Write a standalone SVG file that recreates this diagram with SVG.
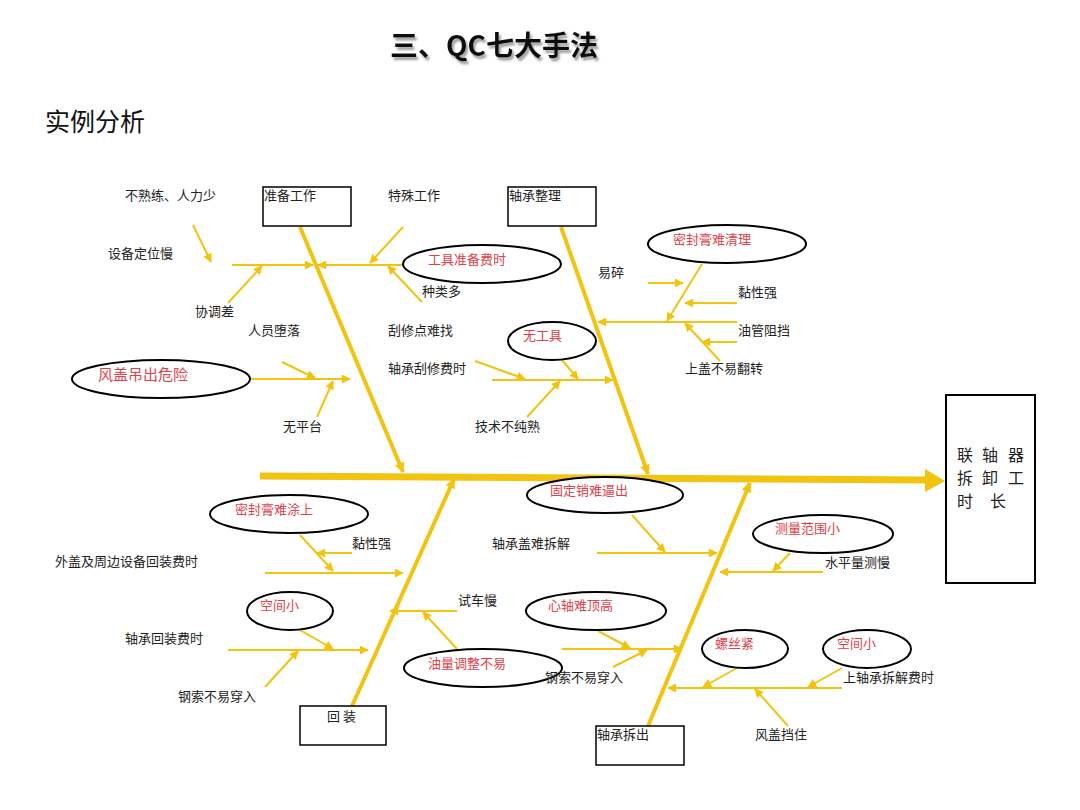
<svg xmlns="http://www.w3.org/2000/svg" width="1080" height="810" viewBox="0 0 1080 810">
<style>
.t{font-family:"Noto Sans CJK SC","Liberation Serif",serif;font-size:13px;fill:#222}
.h{font-family:"Noto Sans CJK SC","Liberation Serif",serif;font-size:16px;fill:#222}
.r{font-family:"Noto Sans CJK SC","Liberation Serif",serif;font-size:13px;fill:#E0404A}
.box{fill:#fff;stroke:#000;stroke-width:1.5}
.el{fill:#fff;stroke:#000;stroke-width:2}
.s{stroke:#F2C30F;stroke-width:2;fill:none}
.b{stroke:#F2C30F;stroke-width:4;fill:none}
</style>
<defs>
<marker id="a" viewBox="0 0 10 10" refX="9" refY="5" markerWidth="11" markerHeight="9" markerUnits="userSpaceOnUse" orient="auto"><path d="M0,0 L10,5 L0,10 z" fill="#F2C30F"/></marker>
<marker id="ab" viewBox="0 0 10 10" refX="9" refY="5" markerWidth="12" markerHeight="10" markerUnits="userSpaceOnUse" orient="auto"><path d="M0,0 L10,5 L0,10 z" fill="#F2C30F"/></marker>
<filter id="sh" x="-10%" y="-30%" width="120%" height="160%"><feDropShadow dx="2" dy="3" stdDeviation="1.2" flood-color="#888" flood-opacity="0.8"/></filter>
</defs>
<rect width="1080" height="810" fill="#fff"/>
<text x="390" y="56" filter="url(#sh)" style="font-family:'Noto Sans CJK SC','Liberation Sans',sans-serif;font-size:28px;font-weight:bold;fill:#111">三、QC七大手法</text>
<text x="45" y="131" style="font-family:'Noto Sans CJK SC','Liberation Sans',sans-serif;font-size:25px;fill:#111">实例分析</text>

<g id="connectors">
<line x1="260" y1="476" x2="928" y2="480" stroke="#F2C30F" stroke-width="7"/>
<polygon points="925,469 945,481 925,492" fill="#F2C30F"/>
<line class="b" x1="300" y1="227" x2="403" y2="472" marker-end="url(#ab)"/>
<line class="b" x1="561" y1="227" x2="648" y2="474" marker-end="url(#ab)"/>
<line class="b" x1="352" y1="706" x2="454" y2="479" marker-end="url(#ab)"/>
<line class="b" x1="648" y1="726" x2="750" y2="483" marker-end="url(#ab)"/>
<line class="s" x1="193" y1="225" x2="211" y2="262" marker-end="url(#a)"/>
<line class="s" x1="232" y1="265" x2="313" y2="265" marker-end="url(#a)"/>
<line class="s" x1="403" y1="265" x2="318" y2="265" marker-end="url(#a)"/>
<line class="s" x1="228" y1="303" x2="262" y2="266" marker-end="url(#a)"/>
<line class="s" x1="403" y1="227" x2="370" y2="263" marker-end="url(#a)"/>
<line class="s" x1="422" y1="302" x2="388" y2="266" marker-end="url(#a)"/>
<line class="s" x1="250" y1="379" x2="350" y2="379" marker-end="url(#a)"/>
<line class="s" x1="282" y1="362" x2="315" y2="378" marker-end="url(#a)"/>
<line class="s" x1="317" y1="417" x2="333" y2="381" marker-end="url(#a)"/>
<line class="s" x1="492" y1="380" x2="613" y2="380" marker-end="url(#a)"/>
<line class="s" x1="475" y1="361" x2="525" y2="379" marker-end="url(#a)"/>
<line class="s" x1="562" y1="360" x2="578" y2="379" marker-end="url(#a)"/>
<line class="s" x1="527" y1="417" x2="560" y2="381" marker-end="url(#a)"/>
<line class="s" x1="737" y1="322" x2="598" y2="322" marker-end="url(#a)"/>
<line class="s" x1="702" y1="264" x2="667" y2="321" marker-end="url(#a)"/>
<line class="s" x1="648" y1="283" x2="683" y2="283" marker-end="url(#a)"/>
<line class="s" x1="737" y1="303" x2="685" y2="303" marker-end="url(#a)"/>
<line class="s" x1="737" y1="342" x2="702" y2="342" marker-end="url(#a)"/>
<line class="s" x1="720" y1="361" x2="685" y2="323" marker-end="url(#a)"/>
<line class="s" x1="352" y1="553" x2="317" y2="553" marker-end="url(#a)"/>
<line class="s" x1="300" y1="535" x2="333" y2="571" marker-end="url(#a)"/>
<line class="s" x1="265" y1="573" x2="403" y2="573" marker-end="url(#a)"/>
<line class="s" x1="228" y1="650" x2="368" y2="650" marker-end="url(#a)"/>
<line class="s" x1="300" y1="630" x2="333" y2="649" marker-end="url(#a)"/>
<line class="s" x1="265" y1="687" x2="298" y2="651" marker-end="url(#a)"/>
<line class="s" x1="457" y1="611" x2="390" y2="611" marker-end="url(#a)"/>
<line class="s" x1="457" y1="649" x2="423" y2="612" marker-end="url(#a)"/>
<line class="s" x1="597" y1="553" x2="717" y2="553" marker-end="url(#a)"/>
<line class="s" x1="632" y1="515" x2="665" y2="552" marker-end="url(#a)"/>
<line class="s" x1="823" y1="572" x2="720" y2="572" marker-end="url(#a)"/>
<line class="s" x1="790" y1="553" x2="773" y2="571" marker-end="url(#a)"/>
<line class="s" x1="562" y1="649" x2="682" y2="649" marker-end="url(#a)"/>
<line class="s" x1="598" y1="631" x2="630" y2="648" marker-end="url(#a)"/>
<line class="s" x1="613" y1="667" x2="647" y2="650" marker-end="url(#a)"/>
<line class="s" x1="842" y1="688" x2="668" y2="688" marker-end="url(#a)"/>
<line class="s" x1="737" y1="668" x2="703" y2="687" marker-end="url(#a)"/>
<line class="s" x1="842" y1="668" x2="808" y2="687" marker-end="url(#a)"/>
<line class="s" x1="788" y1="726" x2="755" y2="689" marker-end="url(#a)"/>
</g>

<g id="head"><rect x="946" y="395" width="89" height="188" fill="#fff" stroke="#000" stroke-width="2"/>
<text class="h" x="957" y="461">联</text><text class="h" x="982" y="461">轴</text><text class="h" x="1008" y="461">器</text>
<text class="h" x="957" y="484">拆</text><text class="h" x="982" y="484">卸</text><text class="h" x="1008" y="484">工</text>
<text class="h" x="957" y="507">时</text><text class="h" x="990" y="507">长</text></g>

<g id="cat-prep"><rect class="box" x="263" y="187" width="88" height="39"/><text class="t" x="264" y="200">准备工作</text></g>
<g id="cat-bearing"><rect class="box" x="508" y="187" width="88" height="39"/><text class="t" x="509" y="200">轴承整理</text></g>
<g id="cat-reinstall"><rect class="box" x="300" y="706" width="86" height="39"/><text class="t" x="327" y="721">回 装</text></g>
<g id="cat-remove"><rect class="box" x="596" y="726" width="88" height="39"/><text class="t" x="597" y="739">轴承拆出</text></g>

<g id="e1"><ellipse class="el" cx="482" cy="264" rx="79" ry="19"/><text class="r" x="428" y="264">工具准备费时</text></g>
<g id="e2"><ellipse class="el" cx="727" cy="244" rx="79" ry="19"/><text class="r" x="673" y="244">密封膏难清理</text></g>
<g id="e3"><ellipse class="el" cx="161" cy="379" rx="89" ry="19"/><text class="r" x="98" y="380" style="font-size:15px">风盖吊出危险</text></g>
<g id="e4"><ellipse class="el" cx="552" cy="341" rx="44" ry="19"/><text class="r" x="523" y="340">无工具</text></g>
<g id="e5"><ellipse class="el" cx="289" cy="514" rx="79" ry="19"/><text class="r" x="235" y="514">密封膏难涂上</text></g>
<g id="e6"><ellipse class="el" cx="605" cy="495" rx="78" ry="18"/><text class="r" x="550" y="495">固定销难逼出</text></g>
<g id="e7"><ellipse class="el" cx="823" cy="534" rx="70" ry="19"/><text class="r" x="775" y="533">测量范围小</text></g>
<g id="e8"><ellipse class="el" cx="290" cy="611" rx="43" ry="19"/><text class="r" x="260" y="610">空间小</text></g>
<g id="e9"><ellipse class="el" cx="596" cy="611" rx="70" ry="19"/><text class="r" x="548" y="610">心轴难顶高</text></g>
<g id="e10"><ellipse class="el" cx="483" cy="668" rx="79" ry="19"/><text class="r" x="428" y="668">油量调整不易</text></g>
<g id="e11"><ellipse class="el" cx="745" cy="649" rx="43" ry="19"/><text class="r" x="715" y="648">螺丝紧</text></g>
<g id="e12"><ellipse class="el" cx="867" cy="649" rx="44" ry="19"/><text class="r" x="837" y="648">空间小</text></g>

<g id="labels">
<text class="t" x="125" y="200">不熟练、人力少</text>
<text class="t" x="388" y="200">特殊工作</text>
<text class="t" x="108" y="258">设备定位慢</text>
<text class="t" x="195" y="316">协调差</text>
<text class="t" x="248" y="335">人员堕落</text>
<text class="t" x="422" y="296">种类多</text>
<text class="t" x="388" y="335">刮修点难找</text>
<text class="t" x="388" y="373">轴承刮修费时</text>
<text class="t" x="283" y="431">无平台</text>
<text class="t" x="475" y="431">技术不纯熟</text>
<text class="t" x="598" y="277">易碎</text>
<text class="t" x="738" y="297">黏性强</text>
<text class="t" x="738" y="335">油管阻挡</text>
<text class="t" x="685" y="373">上盖不易翻转</text>
<text class="t" x="352" y="548">黏性强</text>
<text class="t" x="492" y="548">轴承盖难拆解</text>
<text class="t" x="55" y="566">外盖及周边设备回装费时</text>
<text class="t" x="825" y="567">水平量测慢</text>
<text class="t" x="458" y="605">试车慢</text>
<text class="t" x="125" y="643">轴承回装费时</text>
<text class="t" x="178" y="701">钢索不易穿入</text>
<text class="t" x="545" y="682">钢索不易穿入</text>
<text class="t" x="843" y="682">上轴承拆解费时</text>
<text class="t" x="755" y="739">风盖挡住</text>
</g>
</svg>
